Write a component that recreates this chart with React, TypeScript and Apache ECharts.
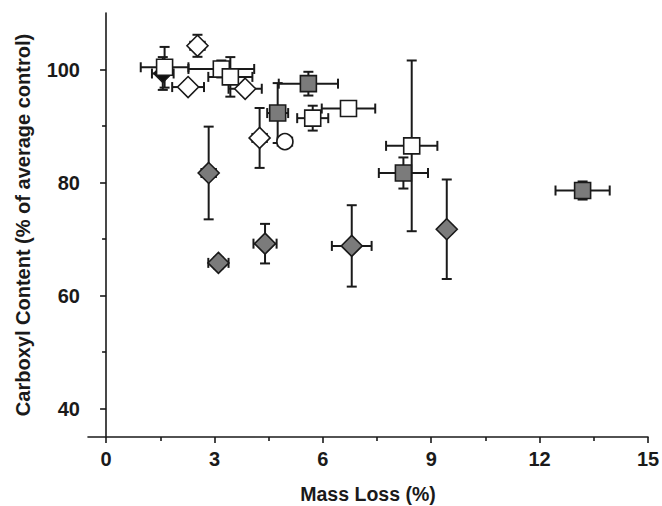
import React, { useEffect, useRef } from "react";
import * as echarts from "echarts";

// [massLoss, carboxyl, xErr, yErr]
const openSquares = [
  [1.62, 100.4, 0.66, 3.6],
  [3.19, 100.1, 0.91, 1.5],
  [3.44, 98.7, 0.61, 3.5],
  [5.72, 91.4, 0.43, 2.2],
  [6.71, 93.1, 0.74, 0.8],
  [8.46, 86.5, 0.71, 15.1],
];
const filledSquares = [
  [4.75, 92.3, 0.29, 5.3],
  [5.6, 97.5, 0.82, 2.1],
  [8.23, 81.7, 0.68, 2.75],
  [13.19, 78.6, 0.75, 1.6],
];
const openDiamonds = [
  [2.53, 104.2, 0.2, 1.95],
  [2.27, 96.9, 0.44, 1.0],
  [3.85, 96.6, 0.46, 1.0],
  [4.25, 87.9, 0.2, 5.3],
];
const filledDiamonds = [
  [2.84, 81.7, 0.2, 8.2],
  [3.11, 65.8, 0.28, 1.0],
  [4.4, 69.2, 0.32, 3.5],
  [6.8, 68.8, 0.55, 7.2],
  [9.43, 71.75, 0.15, 8.8],
];
const openCircles = [[4.95, 87.25, 0.2, 0.7]];
const blackDiamonds = [[1.57, 99.3, 0.3, 2.9]];

const xTicks = [0, 3, 6, 9, 12, 15];
const xMinorTicks = [1.5, 4.5, 7.5, 10.5, 13.5];
const yTicks = [40, 60, 80, 100];
const yMinorTicks = [50, 70, 90];

const FONT = "'Liberation Sans', Arial, sans-serif";
const INK = "#1a1a1a";
const GRAY = "#7b7b7b";

export default function App() {
  const ref = useRef<HTMLDivElement>(null);
  useEffect(() => {
    if (!ref.current) return;
    const chart = echarts.init(ref.current, null, { renderer: "svg" });
    const allPoints = [
      ...openSquares,
      ...filledSquares,
      ...openDiamonds,
      ...filledDiamonds,
      ...openCircles,
      ...blackDiamonds,
    ];
    const cap = 5;
    const errStyle = { stroke: INK, lineWidth: 2 };
    const scatter = (data: number[][], symbol: string, size: number | number[], fill: string) => ({
      type: "scatter",
      xAxisIndex: 0,
      yAxisIndex: 0,
      data: data.map((d) => [d[0], d[1]]),
      symbol,
      symbolSize: size,
      itemStyle: { color: fill, borderColor: INK, borderWidth: 1.6, opacity: 1 },
      z: 5,
    });
    const baseX = {
      type: "value",
      min: -0.5,
      max: 15,
      splitLine: { show: false },
    };
    const baseY = {
      type: "value",
      min: 35,
      max: 110,
      splitLine: { show: false },
    };
    chart.setOption({
      animation: false,
      backgroundColor: "#ffffff",
      grid: { left: 88, right: 14, top: 13, bottom: 69, containLabel: false, outerBoundsMode: "none" },
      xAxis: [
        {
          ...baseX,
          name: "Mass Loss (%)",
          nameLocation: "middle",
          nameGap: 47,
          nameTextStyle: { fontFamily: FONT, fontWeight: "bold", fontSize: 19.5, color: INK },
          axisLine: { lineStyle: { color: INK, width: 1.6 } },
          axisTick: { customValues: xTicks, length: 6, lineStyle: { color: INK, width: 1.6 } },
          axisLabel: {
            customValues: xTicks,
            margin: 12,
            fontFamily: FONT,
            fontWeight: "bold",
            fontSize: 20,
            color: INK,
          },
        },
        {
          ...baseX,
          position: "bottom",
          axisLine: { show: false },
          axisTick: { customValues: xMinorTicks, length: 4, lineStyle: { color: INK, width: 1.6 } },
          axisLabel: { show: false },
        },
      ],
      yAxis: [
        {
          ...baseY,
          name: "Carboxyl Content (% of average control)",
          nameLocation: "middle",
          nameGap: 55,
          nameTextStyle: { fontFamily: FONT, fontWeight: "bold", fontSize: 20, color: INK },
          axisLine: { lineStyle: { color: INK, width: 1.6 } },
          axisTick: { customValues: yTicks, length: 6, lineStyle: { color: INK, width: 1.6 } },
          axisLabel: {
            customValues: yTicks,
            margin: 8,
            fontFamily: FONT,
            fontWeight: "bold",
            fontSize: 20,
            color: INK,
          },
        },
        {
          ...baseY,
          position: "left",
          axisLine: { show: false },
          axisTick: { customValues: yMinorTicks, length: 4, lineStyle: { color: INK, width: 1.6 } },
          axisLabel: { show: false },
        },
      ],
      series: [
        {
          type: "custom",
          xAxisIndex: 0,
          yAxisIndex: 0,
          data: allPoints,
          encode: { x: 0, y: 1 },
          z: 2,
          renderItem: (_params: any, api: any) => {
            const x = api.value(0);
            const y = api.value(1);
            const xe = api.value(2);
            const ye = api.value(3);
            const l = api.coord([x - xe, y]);
            const r = api.coord([x + xe, y]);
            const t = api.coord([x, y + ye]);
            const b = api.coord([x, y - ye]);
            const lines = [
              [l[0], l[1], r[0], r[1]],
              [l[0], l[1] - cap, l[0], l[1] + cap],
              [r[0], r[1] - cap, r[0], r[1] + cap],
              [t[0], t[1], b[0], b[1]],
              [t[0] - cap, t[1], t[0] + cap, t[1]],
              [b[0] - cap, b[1], b[0] + cap, b[1]],
            ];
            return {
              type: "group",
              children: lines.map((s) => ({
                type: "line",
                shape: { x1: s[0], y1: s[1], x2: s[2], y2: s[3] },
                style: errStyle,
              })),
            };
          },
        },
        scatter(filledDiamonds, "diamond", 21, GRAY),
        scatter(openDiamonds, "diamond", 21, "#ffffff"),
        scatter(blackDiamonds, "diamond", 18, "#111111"),
        scatter(openCircles, "circle", 16, "#ffffff"),
        scatter(filledSquares, "rect", 16, GRAY),
        scatter(openSquares, "rect", 16, "#ffffff"),
      ],
    });
    return () => chart.dispose();
  }, []);
  return <div ref={ref} style={{ width: 662, height: 506, position: "absolute", left: 0, top: 0 }} />;
}
